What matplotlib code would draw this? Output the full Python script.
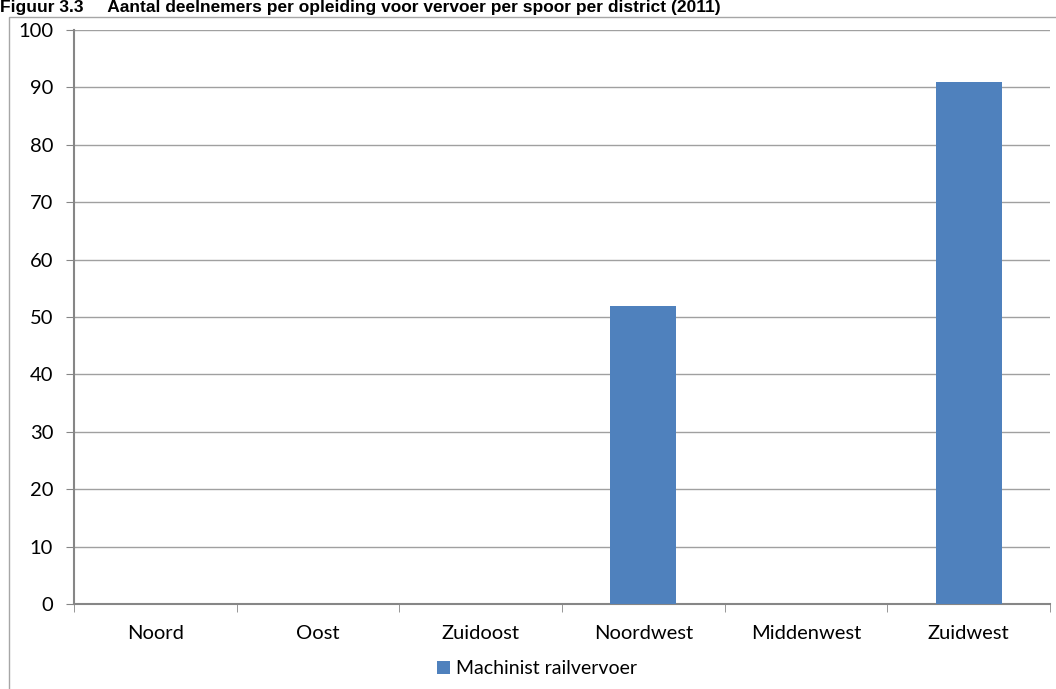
import matplotlib.pyplot as plt
import matplotlib.patches as mpatches
import numpy as np

# data
districts = ['Noord', 'Oost', 'Zuidoost', 'Noordwest', 'Middenwest', 'Zuidwest']
machinist = [0, 0, 0, 52, 0, 91]
series_name = 'Machinist railvervoer'
title = 'Figuur 3.3     Aantal deelnemers per opleiding voor vervoer per spoor per district (2011)'

W, H = 1056, 689
fig = plt.figure(figsize=(W / 100, H / 100), dpi=100)
plt.rcParams['font.family'] = ['Lato', 'DejaVu Sans']

# outer chart frame (runs off the right/bottom edge like the screenshot)
frame = mpatches.Rectangle((9 / W, -0.1), 1.2, 1 - 17 / H + 0.1, transform=fig.transFigure,
                           fill=False, edgecolor='#a6a6a6', linewidth=1.0)
fig.patches.append(frame)

# title at the top
fig.text(0.0, 1 - 12 / H, title, fontsize=12.5, fontweight='bold',
         family='Liberation Sans', va='baseline', ha='left')

ax = fig.add_axes([74 / W, (H - 604) / H, (1050 - 74) / W, (604 - 30) / H])
x = np.arange(len(districts))
ax.bar(x, machinist, width=0.405, color='#4f81bd', label=series_name, zorder=3)

ax.set_xlim(-0.5, len(districts) - 0.5)
ax.set_ylim(0, 100)
ax.set_yticks(range(0, 101, 10))
ax.yaxis.grid(True, color='#a0a0a0', linewidth=1.0, zorder=0)

ax.set_xticks(x)
ax.set_xticklabels(districts, fontsize=14.5)
ax.set_xticks(np.arange(-0.5, len(districts)), minor=True)
ax.tick_params(axis='x', which='major', length=0, pad=15)
ax.tick_params(axis='x', which='minor', length=6, color='#868686')
ax.tick_params(axis='y', length=6, color='#868686', labelsize=14.5, pad=9)

for s in ['top', 'right']:
    ax.spines[s].set_visible(False)
for s in ['left', 'bottom']:
    ax.spines[s].set_color('#868686')
    ax.spines[s].set_linewidth(1.5)

leg = fig.legend(loc='center', bbox_to_anchor=(537 / W, 1 - 669 / H), frameon=False,
                 fontsize=14, handlelength=0.65, handleheight=0.65, handletextpad=0.3)

fig.savefig('out.png', dpi=100)
